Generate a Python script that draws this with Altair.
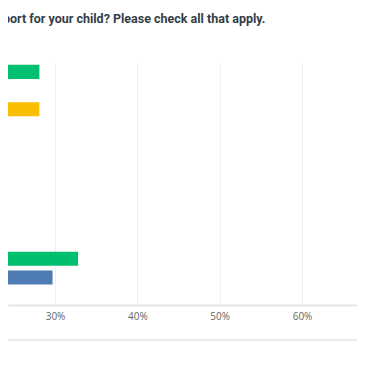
import altair as alt
import pandas as pd

# 13 answer rows; only rows whose bars reach the visible part of the chart have readable values
rows = list(range(1, 14))
visible_rows = [1, 3, 11, 12]
visible_values = [28.1, 28.1, 32.8, 29.7]
bar_colors = ["#00BF6F", "#F9BE00", "#00BF6F", "#507CB6"]
tick_values = [30, 40, 50, 60]
title_text = "port for your child? Please check all that apply."

df = pd.DataFrame({"row": visible_rows, "pct": visible_values})
title_df = pd.DataFrame({"t": [title_text]})
line_df = pd.DataFrame({"k": [0]})

W, H = 349, 242

x_scale = alt.Scale(domain=[24.29, 66.68], zero=False, nice=False)

bars = alt.Chart(df).mark_bar(clip=True).encode(
    y=alt.Y("row:O", scale=alt.Scale(domain=rows, paddingInner=0.25, paddingOuter=0.1), axis=None),
    x=alt.X("pct:Q", scale=x_scale,
            axis=alt.Axis(values=tick_values, labelExpr="datum.value + '%'", title=None,
                          grid=True, gridColor="#EFEFEF", gridWidth=1,
                          ticks=False, domainColor="#E6E6E6", domainWidth=2,
                          labelColor="#666666", labelFontSize=10, labelFont="Open Sans",
                          labelPadding=6)),
    color=alt.Color("row:O", scale=alt.Scale(domain=visible_rows, range=bar_colors), legend=None),
)

title = alt.Chart(title_df).mark_text(
    align="left", baseline="alphabetic", font="Roboto", fontWeight="bold",
    fontSize=12.5, color="#333E48", clip=False
).encode(x=alt.value(-5), y=alt.value(-40), text="t:N")

bottom_line = alt.Chart(line_df).mark_rule(color="#E3E3E3", strokeWidth=1.5).encode(
    x=alt.value(0), x2=alt.value(W), y=alt.value(277)
)

chart = alt.layer(bars, title, bottom_line).properties(
    width=W, height=H,
    autosize=alt.AutoSizeParams(type="none"),
    padding={"top": 55, "left": 0, "right": 0, "bottom": 40},
).configure_view(strokeWidth=0)

chart.save("out.html", embed_options={"renderer": "svg", "actions": False})
